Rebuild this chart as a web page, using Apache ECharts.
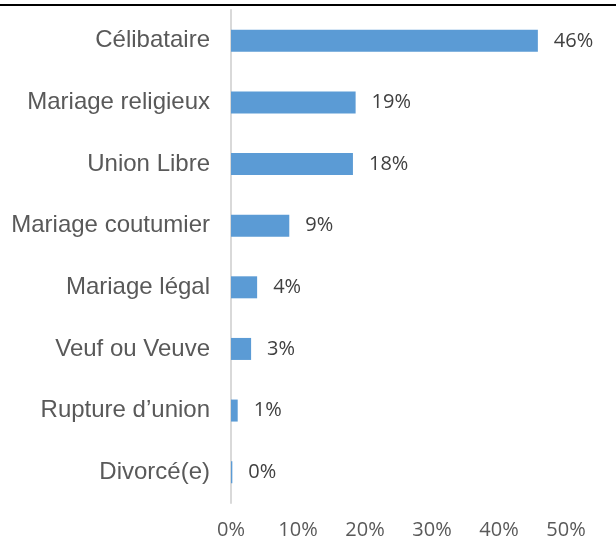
<!DOCTYPE html>
<html>
<head>
<meta charset="utf-8">
<script src="https://cdn.jsdelivr.net/npm/echarts@6/dist/echarts.min.js"></script>
<style>
  html, body { margin: 0; padding: 0; background: #fff; }
  #chart { width: 616px; height: 555px; }
</style>
</head>
<body>
<div id="chart"></div>
<script>
// statut matrimonial, from top to bottom
const categories = ['Célibataire', 'Mariage religieux', 'Union Libre', 'Mariage coutumier',
  'Mariage légal', 'Veuf ou Veuve', 'Rupture d\u2019union', 'Divorcé(e)'];
const values = [45.8, 18.6, 18.2, 8.7, 3.9, 3.0, 1.0, 0.2];
const xTicks = [0, 10, 20, 30, 40, 50];

const chart = echarts.init(document.getElementById('chart'), null, { renderer: 'canvas' });

chart.setOption({
  animation: false,
  grid: { left: 231, right: 50, top: 10, bottom: 52, containLabel: false },
  xAxis: {
    type: 'value',
    min: xTicks[0],
    max: xTicks[xTicks.length - 1],
    interval: 10,
    axisLine: { show: false },
    axisTick: { show: false },
    splitLine: { show: false },
    axisLabel: {
      margin: 17,
      color: '#595959',
      fontFamily: 'Open Sans',
      fontSize: 20,
      formatter: v => v + '%'
    }
  },
  yAxis: {
    type: 'category',
    inverse: true,
    data: categories,
    axisLine: { show: true, lineStyle: { color: '#d9d9d9', width: 2 } },
    axisTick: { show: false },
    axisLabel: {
      margin: 21,
      color: '#595959',
      fontFamily: 'Liberation Sans',
      fontSize: 24
    }
  },
  series: [{
    type: 'bar',
    data: values,
    barWidth: 22,
    itemStyle: { color: '#5b9bd5' },
    label: {
      show: true,
      position: 'right',
      distance: 16,
      color: '#404040',
      fontFamily: 'Open Sans',
      fontSize: 20,
      formatter: p => Math.round(p.value) + '%'
    }
  }],
  graphic: [{
    type: 'line',
    shape: { x1: 0, y1: 5, x2: 616, y2: 5 },
    style: { stroke: '#000', lineWidth: 2 }
  }]
});
</script>
</body>
</html>
